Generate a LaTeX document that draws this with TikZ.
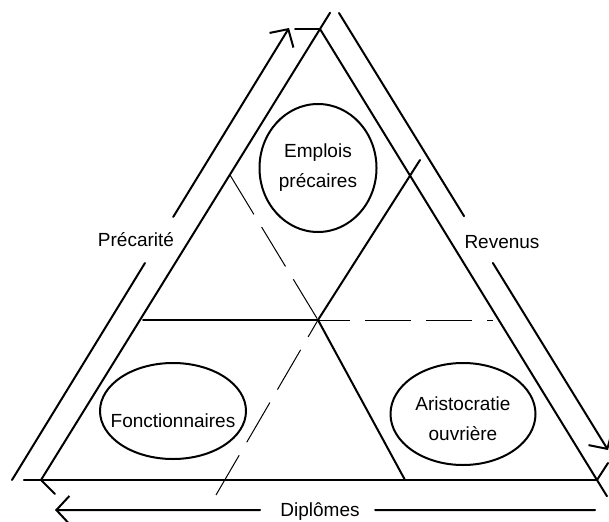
\documentclass[tikz,border=0pt]{standalone}
\usepackage{fontspec}
\setmainfont{Liberation Sans}
\usetikzlibrary{calc,arrows.meta,shapes.geometric}

\def\ink{black}
\tikzstyle{sideline}=[draw,color=\ink,line width=2bp,line cap=round]
\tikzstyle{cutline}=[draw,color=\ink,line width=1bp,
                     dash pattern=on 46bp off 15bp]
\tikzstyle{scalearrow}=[sideline,-{Straight Barb[length=13bp,width=28bp]}]
\tikzstyle{classblob}=[draw,ellipse,color=\ink,line width=2bp,inner sep=0pt]
\tikzstyle{caption}=[font=\fontsize{19bp}{30bp}\selectfont,text=\ink,
                     align=center]

\begin{document}
\begin{tikzpicture}[x=1bp,y=-1bp]
  \useasboundingbox (0,0) rectangle (609,522);
  % Place corners of the triangle
  \coordinate (apex) at (320,29);
  \coordinate (bl) at (41,480);
  \coordinate (br) at (597,480);
  \coordinate (ctr) at (318,320);

  % sides run a little past each corner
  \path[sideline] (bl) -- ($(bl)!1.036!(apex)$);
  \path[sideline] (apex) -- ($(apex)!1.036!(br)$);
  \path[sideline] (br) -- ($(br)!1.031!(bl)$);
  \path[sideline] (apex) -- +(-25,0);
  \path[sideline] (bl) -- +(14,14);
  \path[sideline] (br) -- +(11,-17);

  % inner lines through the centre
  \coordinate (hl) at (143,320);
  \coordinate (hr) at (493,320);
  \coordinate (ul) at (230,175);
  \coordinate (dr) at (405,480);
  \coordinate (ur) at (420,160);
  \coordinate (dl) at (216,495);
  \path[sideline] (hl) -- (ctr);
  \path[cutline,dash phase=14bp] (ctr) -- (hr);
  \path[cutline] (ul) -- (ctr);
  \path[sideline] (ctr) -- (dr);
  \path[sideline] (ctr) -- (ur);
  \path[cutline] (dl) -- (ctr);

  % Place the three classes
  \node[classblob,minimum width=117bp,minimum height=128bp,
        label={[caption]center:Emplois\\précaires}] (emplois) at (318,168) {};
  \node[classblob,minimum width=146bp,minimum height=96bp,
        label={[caption,yshift=-10bp]center:Fonctionnaires}] (fonct) at (173,411) {};
  \node[classblob,minimum width=145bp,minimum height=102bp,
        label={[caption,yshift=-5bp]center:Aristocratie\\ouvrière}] (aristo) at (463,414) {};

  % Précarité
  \coordinate (p0) at (12,480);
  \coordinate (p1) at (289,28);
  \node[caption,anchor=base] (precarite) at (136,246) {Précarité};
  \path[sideline] (p0) -- ($(p0)!0.48!(p1)$);
  \path[scalearrow] ($(p0)!0.582!(p1)$) -- (p1);

  % Revenus
  \coordinate (r0) at (339,13);
  \coordinate (r1) at (608,450);
  \node[caption,anchor=base] (revenus) at (502,248) {Revenus};
  \path[sideline] (r0) -- ($(r0)!0.465!(r1)$);
  \path[scalearrow] ($(r0)!0.572!(r1)$) -- (r1);

  % Diplômes
  \coordinate (d0) at (595,510);
  \coordinate (d1) at (55,510);
  \node[caption,anchor=base] (diplomes) at (320,516) {Diplômes};
  \path[sideline] (d0) -- ($(d0)!0.407!(d1)$);
  \path[scalearrow] ($(d0)!0.62!(d1)$) -- (d1);
\end{tikzpicture}
\end{document}
